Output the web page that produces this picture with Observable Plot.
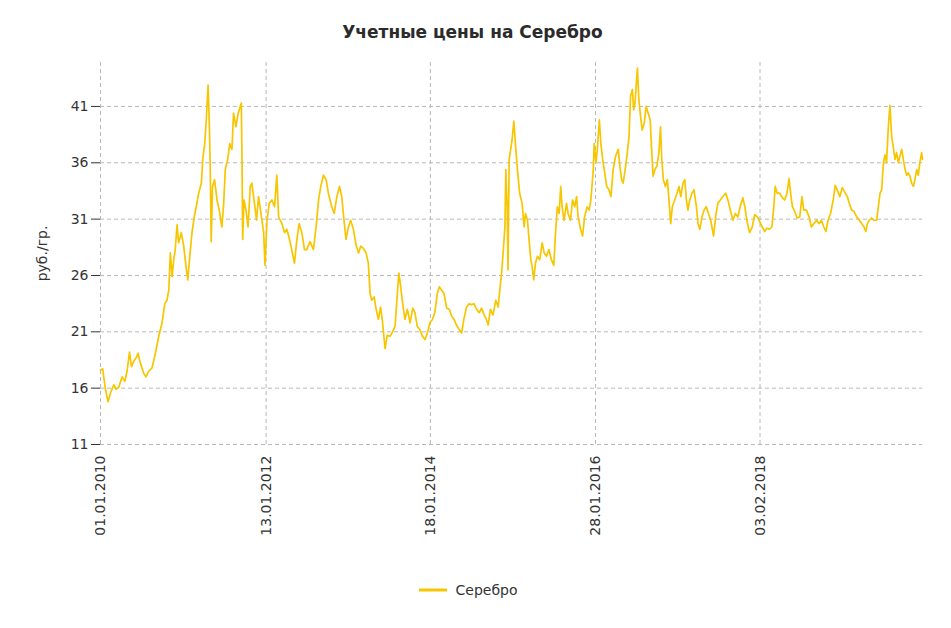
<!DOCTYPE html>
<html>
<head>
<meta charset="utf-8">
<script src="https://cdn.jsdelivr.net/npm/d3@7"></script>
<script src="https://cdn.jsdelivr.net/npm/@observablehq/plot@0.6"></script>
<style>
  body { margin: 0; background: #fff; font-family: "DejaVu Sans", sans-serif; }
  #title { height: 28px; padding-top: 22px; padding-right: 6px; box-sizing: content-box; text-align: center; font-size: 17px; font-weight: bold; color: #2b2b2b; line-height: 20px; }
  #legend { display: flex; justify-content: center; align-items: center; padding-top: 26px; padding-right: 15px; font-size: 14px; color: #333; line-height: 20px; }
  #legend svg { margin-right: 9px; }
</style>
</head>
<body>
<div id="title"></div>
<div id="chart"></div>
<div id="legend"></div>
<script>
const chartTitle = "Учетные цены на Серебро";
const yAxisLabel = "руб./гр.";
const seriesName = "Серебро";
const lineColor = "#f7c600";

const yTicks = [11, 16, 21, 26, 31, 36, 41];
const xTickDates = ["2010-01-01", "2012-01-13", "2014-01-18", "2016-01-28", "2018-02-03"];

const silverPrices = [
  ["2010-01-01",17.6],["2010-01-11",17.7],["2010-01-23",15.9],["2010-02-04",14.8],["2010-02-15",15.6],["2010-03-02",16.3],["2010-03-12",15.9],["2010-03-24",16.1],["2010-04-08",17.0],["2010-04-20",16.6],["2010-04-30",17.5],["2010-05-11",19.2],["2010-05-20",17.9],["2010-05-30",18.4],["2010-06-10",18.7],["2010-06-18",19.1],["2010-06-29",18.2],["2010-07-14",17.3],["2010-07-24",17.0],["2010-08-05",17.5],["2010-08-20",17.8],["2010-09-04",19.1],["2010-09-19",20.6],["2010-10-04",21.8],["2010-10-16",23.5],["2010-10-26",23.8],["2010-11-03",24.7],["2010-11-10",28.0],["2010-11-18",25.9],["2010-11-25",27.4],["2010-12-02",28.3],["2010-12-10",30.5],["2010-12-17",28.9],["2010-12-29",29.8],
  ["2011-01-09",28.6],["2011-01-19",26.8],["2011-01-27",25.6],["2011-02-05",27.7],["2011-02-15",29.8],["2011-02-25",31.2],["2011-03-06",32.1],["2011-03-17",33.3],["2011-03-29",34.2],["2011-04-04",36.3],["2011-04-13",37.7],["2011-04-20",39.8],["2011-04-28",42.9],["2011-05-04",39.2],["2011-05-08",35.1],["2011-05-12",29.0],["2011-05-18",33.9],["2011-05-27",34.5],["2011-06-07",32.7],["2011-06-17",31.8],["2011-06-29",30.3],["2011-07-07",32.4],["2011-07-14",35.4],["2011-07-25",36.3],["2011-08-03",37.7],["2011-08-13",37.2],["2011-08-20",40.4],["2011-08-31",39.2],["2011-09-09",40.3],["2011-09-19",41.0],["2011-09-24",41.3],["2011-09-27",36.3],["2011-09-30",29.2],["2011-10-06",32.7],["2011-10-15",31.8],["2011-10-24",30.3],["2011-11-03",33.9],["2011-11-10",34.2],["2011-11-22",32.4],["2011-12-01",30.9],["2011-12-10",33.0],["2011-12-21",31.5],
  ["2012-01-02",29.8],["2012-01-08",26.9],["2012-01-17",30.9],["2012-01-27",32.4],["2012-02-08",32.7],["2012-02-20",32.1],["2012-03-01",34.9],["2012-03-09",31.2],["2012-03-24",30.6],["2012-04-05",29.8],["2012-04-15",30.1],["2012-04-27",29.2],["2012-05-10",28.0],["2012-05-19",27.1],["2012-05-30",29.2],["2012-06-09",30.6],["2012-06-21",29.8],["2012-07-03",28.3],["2012-07-13",28.3],["2012-07-28",29.0],["2012-08-12",28.3],["2012-08-24",30.3],["2012-09-04",32.7],["2012-09-14",33.9],["2012-09-26",34.9],["2012-10-08",34.5],["2012-10-18",33.3],["2012-11-02",32.1],["2012-11-13",31.5],["2012-11-25",33.0],["2012-12-07",33.9],["2012-12-17",33.0],["2012-12-27",30.9],
  ["2013-01-05",29.2],["2013-01-16",30.3],["2013-01-26",30.9],["2013-02-07",30.1],["2013-02-19",28.7],["2013-03-02",28.0],["2013-03-12",28.6],["2013-03-24",28.4],["2013-04-05",28.0],["2013-04-15",27.1],["2013-04-23",24.4],["2013-04-30",23.8],["2013-05-11",24.1],["2013-05-20",23.0],["2013-05-30",22.1],["2013-06-09",23.2],["2013-06-18",21.8],["2013-06-29",19.5],["2013-07-09",20.7],["2013-07-21",20.6],["2013-08-02",21.0],["2013-08-13",21.5],["2013-08-23",24.4],["2013-08-30",26.2],["2013-09-07",25.0],["2013-09-16",23.5],["2013-09-26",22.1],["2013-10-07",23.0],["2013-10-19",21.8],["2013-10-31",23.1],["2013-11-10",22.7],["2013-11-20",21.5],["2013-12-02",21.2],["2013-12-14",20.6],["2013-12-25",20.3],
  ["2014-01-06",21.0],["2014-01-16",21.8],["2014-01-27",22.1],["2014-02-07",22.7],["2014-02-18",24.4],["2014-02-27",25.0],["2014-03-09",24.7],["2014-03-20",24.4],["2014-04-01",23.1],["2014-04-13",23.0],["2014-04-23",22.4],["2014-05-04",22.1],["2014-05-15",21.6],["2014-05-27",21.2],["2014-06-07",20.9],["2014-06-17",22.1],["2014-06-29",23.2],["2014-07-11",23.5],["2014-07-21",23.4],["2014-08-01",23.5],["2014-08-13",23.0],["2014-08-25",22.7],["2014-09-04",23.1],["2014-09-16",22.5],["2014-09-26",22.1],["2014-10-04",21.6],["2014-10-14",23.0],["2014-10-26",22.5],["2014-11-07",23.8],["2014-11-18",23.2],["2014-11-25",24.7],["2014-12-03",26.2],["2014-12-10",28.0],["2014-12-18",30.3],["2014-12-22",35.4],["2014-12-28",32.1],
  ["2015-01-01",26.5],["2015-01-06",36.3],["2015-01-19",38.0],["2015-01-27",39.7],["2015-02-03",37.7],["2015-02-12",35.4],["2015-02-22",33.3],["2015-03-05",32.4],["2015-03-14",30.3],["2015-03-20",31.5],["2015-03-29",30.9],["2015-04-05",29.2],["2015-04-13",27.4],["2015-04-19",26.8],["2015-04-26",25.6],["2015-05-04",27.1],["2015-05-13",27.7],["2015-05-23",27.4],["2015-06-03",28.9],["2015-06-12",28.0],["2015-06-22",27.7],["2015-07-03",28.3],["2015-07-14",27.4],["2015-07-25",26.9],["2015-08-01",29.5],["2015-08-10",32.1],["2015-08-18",31.5],["2015-08-25",33.9],["2015-08-31",32.1],["2015-09-09",30.9],["2015-09-20",32.4],["2015-09-27",31.5],["2015-10-08",30.9],["2015-10-17",32.7],["2015-10-27",32.1],["2015-11-04",33.0],["2015-11-11",31.2],["2015-11-22",30.1],["2015-12-01",29.5],["2015-12-10",31.2],["2015-12-21",32.1],["2015-12-31",31.8],
  ["2016-01-07",32.7],["2016-01-18",35.4],["2016-01-22",37.7],["2016-01-30",36.0],["2016-02-06",37.4],["2016-02-14",39.8],["2016-02-21",37.7],["2016-02-29",36.3],["2016-03-07",35.4],["2016-03-18",33.9],["2016-03-28",33.6],["2016-04-06",33.0],["2016-04-16",35.4],["2016-04-27",36.6],["2016-05-09",37.2],["2016-05-16",35.7],["2016-05-24",34.5],["2016-05-31",34.2],["2016-06-11",35.7],["2016-06-20",37.2],["2016-06-26",38.3],["2016-07-03",41.9],["2016-07-11",42.5],["2016-07-17",40.7],["2016-07-23",41.3],["2016-07-30",43.4],["2016-08-03",44.4],["2016-08-09",41.6],["2016-08-17",40.1],["2016-08-24",38.9],["2016-09-02",39.5],["2016-09-11",41.0],["2016-09-20",40.4],["2016-09-29",39.8],["2016-10-06",36.9],["2016-10-12",34.8],["2016-10-20",35.4],["2016-10-29",35.7],["2016-11-07",36.9],["2016-11-14",39.2],["2016-11-20",36.3],["2016-11-27",34.5],["2016-12-06",33.9],["2016-12-15",34.5],["2016-12-22",32.7],["2016-12-30",30.6],
  ["2017-01-06",32.1],["2017-01-17",32.7],["2017-01-27",33.3],["2017-02-05",33.9],["2017-02-13",33.0],["2017-02-23",34.2],["2017-03-03",34.5],["2017-03-10",32.7],["2017-03-17",31.8],["2017-03-25",32.7],["2017-04-04",33.3],["2017-04-13",33.6],["2017-04-24",32.1],["2017-05-01",30.6],["2017-05-09",30.1],["2017-05-19",31.2],["2017-05-28",31.8],["2017-06-07",32.1],["2017-06-17",31.5],["2017-06-27",30.9],["2017-07-10",29.5],["2017-07-19",31.2],["2017-07-29",32.4],["2017-08-09",32.7],["2017-08-21",33.0],["2017-09-02",33.3],["2017-09-12",32.7],["2017-09-23",31.8],["2017-10-05",30.9],["2017-10-15",31.5],["2017-10-27",31.2],["2017-11-06",32.1],["2017-11-18",32.9],["2017-11-27",32.1],["2017-12-06",30.9],["2017-12-18",29.8],["2017-12-30",30.3],
  ["2018-01-10",31.4],["2018-01-22",31.2],["2018-02-01",30.8],["2018-02-13",30.3],["2018-02-24",29.9],["2018-03-06",30.2],["2018-03-18",30.1],["2018-03-28",30.3],["2018-04-06",32.1],["2018-04-12",33.9],["2018-04-21",33.3],["2018-05-02",33.3],["2018-05-14",32.9],["2018-05-24",32.7],["2018-06-04",33.3],["2018-06-13",34.6],["2018-06-20",33.3],["2018-06-28",32.1],["2018-07-08",31.7],["2018-07-19",31.1],["2018-07-31",31.2],["2018-08-10",33.0],["2018-08-18",31.8],["2018-08-30",31.8],["2018-09-11",31.2],["2018-09-21",30.3],["2018-10-02",30.6],["2018-10-14",30.9],["2018-10-26",30.6],["2018-11-05",30.9],["2018-11-16",30.3],["2018-11-25",29.9],["2018-12-05",30.9],["2018-12-16",31.5],["2018-12-28",32.7],
  ["2019-01-06",34.0],["2019-01-15",33.6],["2019-01-27",33.0],["2019-02-06",33.8],["2019-02-18",33.4],["2019-03-01",33.0],["2019-03-10",32.4],["2019-03-21",31.8],["2019-03-31",31.7],["2019-04-12",31.2],["2019-04-24",30.9],["2019-05-05",30.6],["2019-05-15",30.3],["2019-05-23",29.9],["2019-05-30",30.6],["2019-06-08",30.9],["2019-06-18",31.1],["2019-06-29",30.9],["2019-07-11",30.9],["2019-07-18",32.1],["2019-07-26",33.3],["2019-08-02",33.6],["2019-08-10",36.0],["2019-08-17",36.7],["2019-08-24",36.0],["2019-09-01",39.2],["2019-09-08",41.1],["2019-09-16",38.3],["2019-09-23",37.4],["2019-10-01",36.3],["2019-10-08",36.9],["2019-10-16",36.0],["2019-10-23",36.6],["2019-10-31",37.2],["2019-11-07",36.3],["2019-11-15",35.4],["2019-11-22",34.9],["2019-11-29",35.1],["2019-12-07",34.8],["2019-12-14",34.2],["2019-12-22",33.9],["2019-12-29",34.5],
  ["2020-01-06",35.4],["2020-01-13",34.9],["2020-01-20",36.0],["2020-01-28",36.9],["2020-02-01",36.3]
];

const parseDate = d3.utcParse("%Y-%m-%d");
const data = silverPrices.map(([d, v]) => ({date: parseDate(d), price: v}));
const xTicks = xTickDates.map(parseDate);

document.getElementById("title").textContent = chartTitle;

const gridStyle = {stroke: "#b8b8b8", strokeOpacity: 1, strokeWidth: 1, strokeDasharray: "4,3"};

const chart = Plot.plot({
  width: 951,
  height: 504,
  marginTop: 12,
  marginRight: 29,
  marginBottom: 110,
  marginLeft: 100,
  style: {fontFamily: '"DejaVu Sans", sans-serif', fontSize: "14px", color: "#333", background: "#fff"},
  x: {type: "utc", domain: [data[0].date, data[data.length - 1].date]},
  y: {domain: [11, 44.9]},
  marks: [
    Plot.gridY(yTicks, gridStyle),
    Plot.gridX(xTicks, gridStyle),
    Plot.axisY(yTicks, {tickSize: 9, tickPadding: 3, label: yAxisLabel, labelAnchor: "center", labelArrow: "none", labelOffset: 63}),
    Plot.axisX(xTicks, {tickSize: 0, tickPadding: 11, tickRotate: -90, tickFormat: d3.utcFormat("%d.%m.%Y"), label: null}),
    Plot.lineY(data, {x: "date", y: "price", stroke: lineColor, strokeWidth: 1.7, strokeLinejoin: "round"})
  ]
});
document.getElementById("chart").appendChild(chart);

const legend = document.getElementById("legend");
legend.innerHTML = `<svg width="28" height="6"><line x1="0" x2="28" y1="3" y2="3" stroke="${lineColor}" stroke-width="3"/></svg><span></span>`;
legend.querySelector("span").textContent = seriesName;
</script>
</body>
</html>
